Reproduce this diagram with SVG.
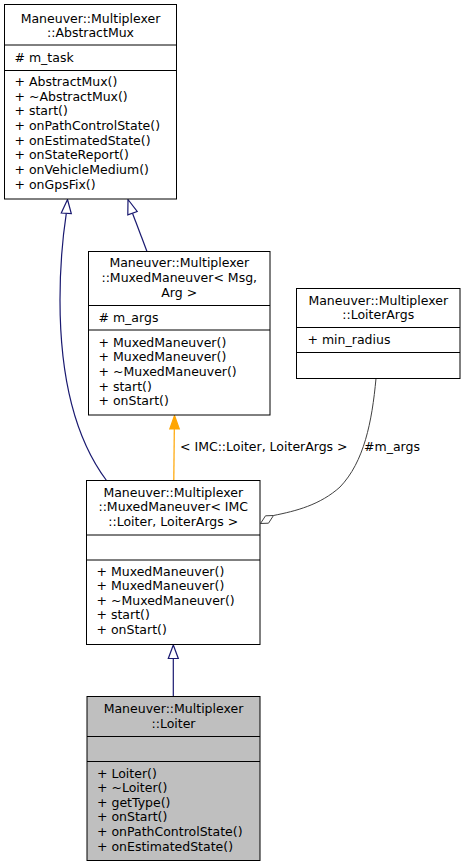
<svg xmlns="http://www.w3.org/2000/svg" width="465" height="867" viewBox="0 0 465 867">
<style>
text{font-family:"DejaVu Sans","Liberation Sans",sans-serif;font-size:12.5px;fill:#000}
.c{text-anchor:middle}
.box{fill:#fff;stroke:#000;stroke-width:1}
.gray{fill:#bfbfbf}
.div{stroke:#000;stroke-width:1}
.inh{fill:none;stroke:#191970;stroke-width:1.2}
.inhh{fill:#fff;stroke:#191970;stroke-width:1.2}
.tpl{fill:none;stroke:#ffa500;stroke-width:1.2}
.tplh{fill:#ffa500;stroke:#ffa500;stroke-width:1.2}
.use{fill:none;stroke:#404040;stroke-width:1}
.useh{fill:#fff;stroke:#404040;stroke-width:1}
</style>
<rect width="465" height="867" fill="#fff"/>
<g id="connectors">
<path class="inh" d="M173.3,696.5 L173.3,658.5"/>
<path class="inhh" d="M173.3,645 L178.3,658.5 L168.3,658.5 Z"/>
<path class="inh" d="M106.5,480.5 C80,445 60,390 60,300 C60,262 63,235 66.3,213.3"/>
<path class="inhh" d="M67.5,199.5 L71.3,213.5 L61.3,213 Z"/>
<path class="inh" d="M147,251.5 L132.5,213.3"/>
<path class="inhh" d="M128,199.5 L137.2,211.5 L127.8,214.8 Z"/>
<path class="tpl" d="M173.8,480.5 L174.3,428.5"/>
<path class="tplh" d="M174.5,415.5 L179.3,429 L169.8,429 Z"/>
<path class="use" d="M376,378.5 C372,422 364,462 340,487 C320,505 296,511 273.5,515.5"/>
<path class="useh" d="M260.5,523.5 L265.5,515.8 L273.5,515.5 L268.5,523.2 Z"/>
<text x="180" y="450.5">&lt; IMC::Loiter, LoiterArgs &gt;</text>
<text x="364" y="450.5">#m_args</text>
</g>
<g id="AbstractMux">
<rect class="box" x="4.5" y="4.5" width="172" height="194.5"/>
<line class="div" x1="4.5" y1="45" x2="176.5" y2="45"/>
<line class="div" x1="4.5" y1="70.5" x2="176.5" y2="70.5"/>
<text class="c" x="90.5" y="22.5">Maneuver::Multiplexer</text>
<text class="c" x="90.5" y="37">::AbstractMux</text>
<text x="14.5" y="62.3"># m_task</text>
<text x="14.5" y="86">+ AbstractMux()</text>
<text x="14.5" y="100.7">+ ~AbstractMux()</text>
<text x="14.5" y="115.3">+ start()</text>
<text x="14.5" y="130">+ onPathControlState()</text>
<text x="14.5" y="144.7">+ onEstimatedState()</text>
<text x="14.5" y="159.3">+ onStateReport()</text>
<text x="14.5" y="174">+ onVehicleMedium()</text>
<text x="14.5" y="188.7">+ onGpsFix()</text>
</g>
<g id="MuxedManeuverMsgArg">
<rect class="box" x="88.5" y="251.5" width="181.5" height="163.5"/>
<line class="div" x1="88.5" y1="305.5" x2="270" y2="305.5"/>
<line class="div" x1="88.5" y1="330" x2="270" y2="330"/>
<text class="c" x="179.25" y="267">Maneuver::Multiplexer</text>
<text class="c" x="179.25" y="281.7">::MuxedManeuver&lt; Msg,</text>
<text class="c" x="179.25" y="296.5">Arg &gt;</text>
<text x="98.5" y="321.7"># m_args</text>
<text x="98.5" y="346.5">+ MuxedManeuver()</text>
<text x="98.5" y="361.2">+ MuxedManeuver()</text>
<text x="98.5" y="375.8">+ ~MuxedManeuver()</text>
<text x="98.5" y="390.5">+ start()</text>
<text x="98.5" y="405.2">+ onStart()</text>
</g>
<g id="LoiterArgs">
<rect class="box" x="296.5" y="288.5" width="163.5" height="90"/>
<line class="div" x1="296.5" y1="327.5" x2="460" y2="327.5"/>
<line class="div" x1="296.5" y1="352.5" x2="460" y2="352.5"/>
<text class="c" x="378.25" y="304.5">Maneuver::Multiplexer</text>
<text class="c" x="378.25" y="319">::LoiterArgs</text>
<text x="307.5" y="343.5">+ min_radius</text>
</g>
<g id="MuxedManeuverLoiter">
<rect class="box" x="86.5" y="480.5" width="173.5" height="164"/>
<line class="div" x1="86.5" y1="535" x2="260" y2="535"/>
<line class="div" x1="86.5" y1="560" x2="260" y2="560"/>
<text class="c" x="173.25" y="496.5">Maneuver::Multiplexer</text>
<text class="c" x="173.25" y="511">::MuxedManeuver&lt; IMC</text>
<text class="c" x="173.25" y="525.5">::Loiter, LoiterArgs &gt;</text>
<text x="96.5" y="575.5">+ MuxedManeuver()</text>
<text x="96.5" y="590">+ MuxedManeuver()</text>
<text x="96.5" y="604.7">+ ~MuxedManeuver()</text>
<text x="96.5" y="619.3">+ start()</text>
<text x="96.5" y="634">+ onStart()</text>
</g>
<g id="Loiter">
<rect class="box gray" x="87" y="696.5" width="173" height="164"/>
<line class="div" x1="87" y1="736.5" x2="260" y2="736.5"/>
<line class="div" x1="87" y1="761.5" x2="260" y2="761.5"/>
<text class="c" x="173.5" y="713">Maneuver::Multiplexer</text>
<text class="c" x="173.5" y="727.5">::Loiter</text>
<text x="97" y="777.5">+ Loiter()</text>
<text x="97" y="792">+ ~Loiter()</text>
<text x="97" y="806.7">+ getType()</text>
<text x="97" y="821.3">+ onStart()</text>
<text x="97" y="836">+ onPathControlState()</text>
<text x="97" y="850.5">+ onEstimatedState()</text>
</g>
</svg>
